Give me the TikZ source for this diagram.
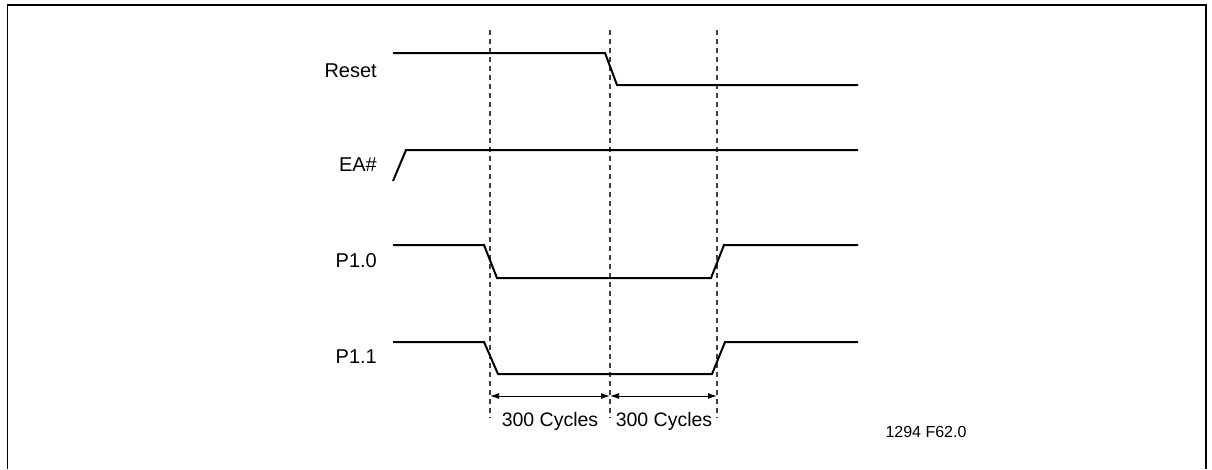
\documentclass[tikz,border=0pt]{standalone}
\usepackage{fontspec}
\setmainfont{Liberation Sans}
\usetikzlibrary{arrows.meta}
\begin{document}
\begin{tikzpicture}[x=1pt,y=-1pt,
  sig/.style={line width=2pt, line join=miter},
  guide/.style={line width=1.2pt, dash pattern=on 5pt off 4pt, black!75},
  dim/.style={line width=1pt, {Latex[length=9pt,width=6pt]}-{Latex[length=9pt,width=6pt]}},
  lbl/.style={font=\fontsize{20}{23}\selectfont, anchor=east, inner sep=0pt},
  txt/.style={font=\fontsize{19.5}{22}\selectfont, inner sep=0pt},
  note/.style={font=\fontsize{16}{19}\selectfont, inner sep=0pt}]
\useasboundingbox (0,0) rectangle (1212,469);
% frame
\draw[line width=1.6pt] (7.5,469) -- (7.5,5) -- (1206,5) -- (1206,469);
% guide lines
\coordinate (g1t) at (490,30); \coordinate (g1b) at (490,418);
\coordinate (g2t) at (610,30); \coordinate (g2b) at (610,418);
\coordinate (g3t) at (717,30); \coordinate (g3b) at (717,418);
\draw[guide] (g1t) -- (g1b);
\draw[guide] (g2t) -- (g2b);
\draw[guide] (g3t) -- (g3b);
% signals
\draw[sig] (393,53) -- (605,53) -- (617,85) -- (858,85);
\draw[sig] (393,181) -- (406,150) -- (858,150);
\draw[sig] (393,245) -- (484,245) -- (497,278) -- (711,278) -- (724,245) -- (858,245);
\draw[sig] (393,342) -- (484,342) -- (498,374) -- (712,374) -- (725,342) -- (858,342);
% labels
\node[lbl] (lreset) at (377,71) {Reset};
\node[lbl] (lea) at (377,165) {EA\#};
\node[lbl] (lp10) at (377,261) {P1.0};
\node[lbl] (lp11) at (377,357) {P1.1};
% dimensions
\coordinate (a1) at (490,396);
\coordinate (a2) at (610,396);
\coordinate (a3) at (717,396);
\draw[dim] (a1) -- (a2);
\draw[dim] (a2) -- (a3);
\node[txt] (c1) at (550,421) {300 Cycles};
\node[txt] (c2) at (664,421) {300 Cycles};
\node[note] (fig) at (926,432) {1294 F62.0};
\end{tikzpicture}
\end{document}
